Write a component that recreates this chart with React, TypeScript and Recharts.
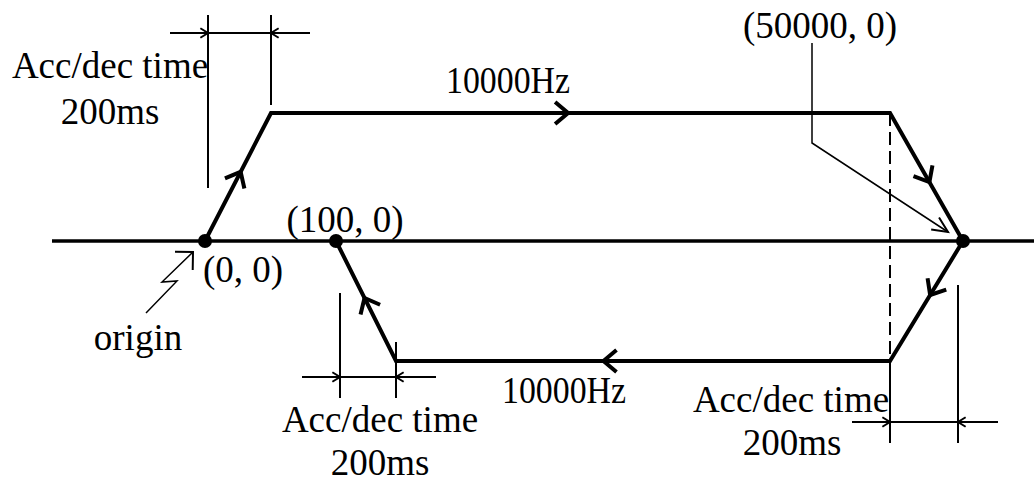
import React from 'react';
import { ComposedChart, Line, Scatter, XAxis, YAxis } from 'recharts';

// diagram units: x grows right from the origin, y grows up from the axis
const axisLine = [{ x: -153, y: 0 }, { x: 829, y: 0 }];
const forwardRun = [{ x: 0, y: 0 }, { x: 66, y: 128 }, { x: 685, y: 128 }, { x: 758, y: 0 }];
const returnRun = [{ x: 758, y: 0 }, { x: 685, y: -120 }, { x: 191, y: -120 }, { x: 131, y: 0 }];
const dashedGuide = [{ x: 685, y: 128 }, { x: 685, y: -120 }];

const dimLines = [
  [{ x: 3, y: 226 }, { x: 3, y: 53 }],
  [{ x: 66, y: 226 }, { x: 66, y: 136 }],
  [{ x: -35, y: 208 }, { x: 105, y: 208 }],
  [{ x: 135, y: -52 }, { x: 135, y: -157 }],
  [{ x: 191, y: -101 }, { x: 191, y: -157 }],
  [{ x: 97, y: -136 }, { x: 231, y: -136 }],
  [{ x: 685, y: -120 }, { x: 685, y: -202 }],
  [{ x: 753, y: -44 }, { x: 753, y: -202 }],
  [{ x: 647, y: -181 }, { x: 793, y: -181 }],
];
const dimTicks = [
  { x: 3, y: 208, dx: 1, dy: 0 },
  { x: 66, y: 208, dx: -1, dy: 0 },
  { x: 135, y: -136, dx: 1, dy: 0 },
  { x: 191, y: -136, dx: -1, dy: 0 },
  { x: 685, y: -181, dx: 1, dy: 0 },
  { x: 753, y: -181, dx: -1, dy: 0 },
];

const endLeader = [{ x: 607, y: 198 }, { x: 607, y: 98 }, { x: 743, y: 9 }];
const originLeader = [{ x: -59, y: -72 }, { x: -28, y: -40 }, { x: -43, y: -41 }, { x: -12, y: -11 }];

const keyPoints = [{ x: 0, y: 0 }, { x: 131, y: 0 }, { x: 758, y: 0 }];

// direction marks along the run: segment endpoints + fraction
const flowMarks = [
  { a: forwardRun[0], b: forwardRun[1], t: 0.54 },
  { a: forwardRun[1], b: forwardRun[2], t: 0.48 },
  { a: forwardRun[2], b: forwardRun[3], t: 0.54 },
  { a: returnRun[0], b: returnRun[1], t: 0.45 },
  { a: returnRun[1], b: returnRun[2], t: 0.58 },
  { a: returnRun[2], b: returnRun[3], t: 0.525 },
].map(({ a, b, t }) => ({ x: a.x + (b.x - a.x) * t, y: a.y + (b.y - a.y) * t, dx: b.x - a.x, dy: b.y - a.y }));

const leaderHeads = [
  { x: 743, y: 9, dx: 136, dy: -89, kind: 'end' },
  { x: -12, y: -11, dx: 31, dy: 30, kind: 'origin' },
];

const labels = [
  { x: -95, y: 163, text: 'Acc/dec time' },
  { x: -95, y: 117, text: '200ms' },
  { x: 303, y: 148, text: '10000Hz' },
  { x: 615, y: 203, text: '(50000, 0)' },
  { x: 140, y: 9, text: '(100, 0)' },
  { x: 38, y: -41, text: '(0, 0)' },
  { x: -67, y: -109, text: 'origin' },
  { x: 175, y: -191, text: 'Acc/dec time' },
  { x: 175, y: -234, text: '200ms' },
  { x: 359, y: -162, text: '10000Hz' },
  { x: 586, y: -171, text: 'Acc/dec time' },
  { x: 587, y: -214, text: '200ms' },
];

const chevron = (len: number, half: number, width: number) => (props: any) => {
  const { cx, cy, payload } = props;
  const deg = (Math.atan2(-payload.dy, payload.dx) * 180) / Math.PI;
  const h = (half * Math.PI) / 180;
  const bx = -len * Math.cos(h);
  const by = len * Math.sin(h);
  return (
    <path
      d={`M ${bx} ${-by} L 0 0 L ${bx} ${by}`}
      transform={`translate(${cx},${cy}) rotate(${deg})`}
      fill="none"
      stroke="#000"
      strokeWidth={width}
    />
  );
};

const leaderHead = (props: any) => {
  const { payload } = props;
  return payload.kind === 'origin' ? chevron(18, 45, 2)(props) : chevron(17, 25, 2)(props);
};

const Dot = (props: any) => <circle cx={props.cx} cy={props.cy} r={7} fill="#000" />;

const Label = (props: any) => {
  const text: string = props.payload.text;
  // the Hz labels are set in a narrow half-width face in the original
  const narrow = text.endsWith('Hz');
  return (
    <text
      x={props.cx}
      y={props.cy}
      textAnchor="middle"
      fontFamily="'Liberation Serif', 'Times New Roman', serif"
      fontSize={37}
      fill="#000"
      textLength={narrow ? 124 : undefined}
      lengthAdjust={narrow ? 'spacingAndGlyphs' : undefined}
    >
      {text}
    </text>
  );
};

const thin = { stroke: '#000', strokeWidth: 2, dot: false, activeDot: false, isAnimationActive: false } as const;

export default function App() {
  return (
    <div style={{ position: 'absolute', left: 0, top: 0, background: '#fff' }}>
      <ComposedChart width={1034} height={483} margin={{ top: 0, right: 0, bottom: 0, left: 0 }}>
        <XAxis dataKey="x" type="number" domain={[-205, 829]} allowDataOverflow hide />
        <YAxis dataKey="y" type="number" domain={[-242, 241]} allowDataOverflow hide />

        {dimLines.map((seg, i) => (
          <Line key={`dim${i}`} data={seg} dataKey="y" type="linear" {...thin} />
        ))}
        <Line data={endLeader} dataKey="y" type="linear" {...thin} strokeWidth={1.5} />
        <Line data={originLeader} dataKey="y" type="linear" {...thin} strokeWidth={1.5} />
        <Line data={dashedGuide} dataKey="y" type="linear" {...thin} strokeDasharray="13 6" />

        <Line data={axisLine} dataKey="y" type="linear" stroke="#000" strokeWidth={3.5} dot={false} activeDot={false} isAnimationActive={false} />
        <Line data={forwardRun} dataKey="y" type="linear" stroke="#000" strokeWidth={4} dot={false} activeDot={false} isAnimationActive={false} />
        <Line data={returnRun} dataKey="y" type="linear" stroke="#000" strokeWidth={4} dot={false} activeDot={false} isAnimationActive={false} />

        <Scatter data={flowMarks} shape={chevron(17, 40, 4)} isAnimationActive={false} />
        <Scatter data={dimTicks} shape={chevron(9, 32, 2)} isAnimationActive={false} />
        <Scatter data={leaderHeads} shape={leaderHead} isAnimationActive={false} />
        <Scatter data={keyPoints} shape={Dot} isAnimationActive={false} />
        <Scatter data={labels} shape={Label} isAnimationActive={false} />
      </ComposedChart>
    </div>
  );
}
